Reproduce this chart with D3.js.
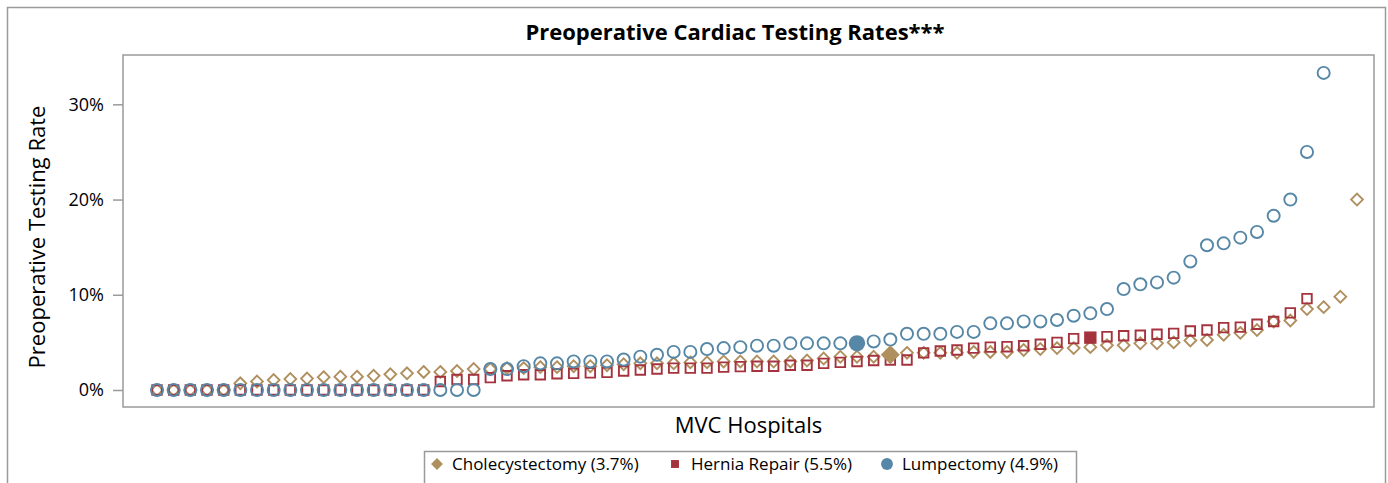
<!DOCTYPE html>
<html>
<head>
<meta charset="utf-8">
<script src="https://cdn.jsdelivr.net/npm/d3@7"></script>
<style>
  body { margin: 0; background: #fff; }
  svg { font-family: "Open Sans", "Liberation Sans", Arial, sans-serif; }
  .frame { fill: none; stroke: #9a9a9a; stroke-width: 1.5; }
  .axis path, .axis line { stroke: #9a9a9a; stroke-width: 1.5; }
  .axis text { fill: #000; font-size: 18px; font-family: "Open Sans", sans-serif; }
</style>
</head>
<body>
<div id="chart"></div>
<script>
// hospital rates (%) per procedure, each sorted ascending; the procedure
// average is drawn as a filled marker at its rank position
var cholecystectomy = [0, 0, 0, 0, 0, 0.7, 0.9, 1.05, 1.15, 1.2, 1.35, 1.4, 1.4, 1.5, 1.65, 1.75,
	1.9, 1.9, 2.0, 2.2, 2.2, 2.3, 2.3, 2.4, 2.4, 2.5, 2.5, 2.6, 2.7, 2.8, 2.8, 2.8, 2.9, 2.9,
	3.0, 3.0, 3.0, 3.0, 3.0, 3.1, 3.3, 3.5, 3.5, 3.5,
	3.9, 3.9, 3.9, 3.9, 4.0, 4.0, 4.0, 4.2, 4.3, 4.4, 4.4, 4.5, 4.7, 4.7, 4.9, 4.9, 5.0, 5.2,
	5.25, 5.8, 6.0, 6.3, 7.2, 7.3, 8.5, 8.7, 9.8, 20.0];
var herniaRepair = [0, 0, 0, 0, 0, 0, 0, 0, 0, 0, 0, 0, 0, 0, 0, 0, 0, 0.9, 1.1, 1.1, 1.3, 1.5,
	1.6, 1.6, 1.7, 1.75, 1.8, 1.85, 2.0, 2.1, 2.2, 2.3, 2.3, 2.3, 2.4, 2.45, 2.5, 2.5, 2.6, 2.6,
	2.8, 2.9, 3.0, 3.1, 3.15, 3.15, 3.9, 4.1, 4.2, 4.4, 4.5, 4.55, 4.65, 4.8, 5.0, 5.4,
	5.6, 5.7, 5.75, 5.85, 5.95, 6.2, 6.3, 6.55, 6.6, 6.9, 7.2, 8.1, 9.6];
var lumpectomy = [0, 0, 0, 0, 0, 0, 0, 0, 0, 0, 0, 0, 0, 0, 0, 0, 0, 0, 0, 0, 2.2, 2.2, 2.5,
	2.8, 2.8, 3.0, 3.0, 3.0, 3.2, 3.5, 3.7, 4.0, 4.0, 4.3, 4.4, 4.5, 4.65, 4.65, 4.9, 4.9, 4.9, 4.9,
	5.1, 5.3, 5.9, 5.9, 5.9, 6.1, 6.1, 7.0, 7.0, 7.2, 7.2, 7.35, 7.8, 8.05, 8.5, 10.6, 11.1,
	11.3, 11.8, 13.5, 15.2, 15.4, 16.0, 16.6, 18.3, 20.0, 25.0, 33.3];

var procedures = ["Cholecystectomy", "Hernia Repair", "Lumpectomy"];
var averages = [3.7, 5.5, 4.9];
var yTicks = [0, 10, 20, 30];

var colors = ["#b08f5f", "#a5333e", "#5687a6"];
var symbols = [d3.symbolDiamond2, d3.symbolSquare2, d3.symbolCircle];

var W = 1388, H = 483;
var margin = {top: 55, right: 14, bottom: 76, left: 123};
var graph_w = W - margin.left - margin.right;
var graph_h = H - margin.top - margin.bottom;

var svg = d3.select("#chart").append("svg")
	.attr("width", W)
	.attr("height", H);

// outer border
svg.append("rect")
	.attr("class", "frame")
	.attr("x", 7.5).attr("y", 7.5)
	.attr("width", 1378).attr("height", 520);

svg.append("text")
	.attr("x", 735)
	.attr("y", 40)
	.attr("text-anchor", "middle")
	.attr("font-weight", "bold")
	.attr("font-size", "22px")
	.text("Preoperative Cardiac Testing Rates***");

var g = svg.append("g")
	.attr("transform", "translate(" + margin.left + "," + margin.top + ")");

var x = d3.scaleLinear()
	.domain([-2.04, 73.02])
	.range([0, graph_w]);

var y = d3.scaleLinear()
	.domain([-1.785, 35.18])
	.range([graph_h, 0]);

g.append("rect")
	.attr("class", "frame")
	.attr("width", graph_w)
	.attr("height", graph_h);

g.append("g")
	.attr("class", "axis")
	.call(d3.axisLeft(y)
		.tickValues(yTicks)
		.tickSize(10)
		.tickPadding(9)
		.tickFormat(function(d) { return d + "%"; }))
	.call(function(a) { a.select(".domain").remove(); });

svg.append("text")
	.attr("transform", "translate(45,237) rotate(-90)")
	.attr("text-anchor", "middle")
	.attr("font-size", "22px")
	.text("Preoperative Testing Rate");

svg.append("text")
	.attr("x", margin.left + graph_w / 2)
	.attr("y", 433)
	.attr("text-anchor", "middle")
	.attr("font-size", "22px")
	.text("MVC Hospitals");

// put each average into its sorted series
var series = [cholecystectomy, herniaRepair, lumpectomy].map(function(vals, s) {
	var pos = d3.bisectRight(vals, averages[s]);
	var pts = vals.map(function(v) { return {v: v, avg: false}; });
	pts.splice(pos, 0, {v: averages[s], avg: true});
	pts.forEach(function(p, i) { p.i = i; });
	return pts;
});

var openSize = [88, 115, 115];
var fillSize = [230, 196, 210];

series.forEach(function(pts, s) {
	g.append("g").selectAll("path")
		.data(pts.filter(function(p) { return !p.avg; }))
		.enter().append("path")
		.attr("transform", function(p) { return "translate(" + x(p.i) + "," + y(p.v) + ")"; })
		.attr("d", d3.symbol().type(symbols[s]).size(openSize[s]))
		.attr("fill", "none")
		.attr("stroke", colors[s])
		.attr("stroke-width", 1.9);
});

series.forEach(function(pts, s) {
	g.append("g").selectAll("path")
		.data(pts.filter(function(p) { return p.avg; }))
		.enter().append("path")
		.attr("transform", function(p) { return "translate(" + x(p.i) + "," + y(p.v) + ")"; })
		.attr("d", d3.symbol().type(symbols[s]).size(fillSize[s]))
		.attr("fill", colors[s]);
});

// legend
var legend = svg.append("g");
legend.append("rect")
	.attr("class", "frame")
	.attr("x", 424.5).attr("y", 451.5)
	.attr("width", 652).attr("height", 60);

var legX = [437, 675, 887];
var legSize = [90, 80, 110];
procedures.forEach(function(name, s) {
	legend.append("path")
		.attr("transform", "translate(" + legX[s] + ",464)")
		.attr("d", d3.symbol().type(symbols[s]).size(legSize[s]))
		.attr("fill", colors[s]);
	legend.append("text")
		.attr("x", legX[s] + (s === 1 ? 16 : 15))
		.attr("y", 470)
		.attr("font-size", "17px")
		.text(name + " (" + averages[s] + "%)");
});
</script>
</body>
</html>
